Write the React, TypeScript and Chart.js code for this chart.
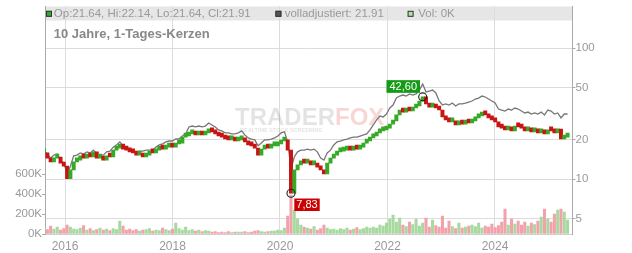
import React, { useEffect, useRef } from "react";
import { Chart, registerables } from "chart.js";

Chart.register(...registerables);

// ---- data -------------------------------------------------------------
const START_YEAR = 2015.6104; // first sample (decimal year)
const STEP_YEARS = 0.061256; // spacing between samples (~22 days)

const closes = [
  15.9, 14.5, 13.6, 14.5, 14.8, 13.3, 12.6, 10.1, 11.8, 13.6,
  14.0, 15.1, 14.5, 15.3, 14.8, 16.2, 14.5, 14.8, 14.0, 15.1,
  14.8, 16.7, 17.3, 18.6, 17.0, 16.7, 16.2, 15.9, 15.3, 15.6,
  14.8, 15.3, 16.2, 15.9, 16.7, 17.3, 17.0, 17.6, 18.0, 17.6,
  18.6, 18.9, 21.0, 21.4, 22.2, 22.6, 21.8, 22.2, 21.8, 22.6,
  23.8, 23.0, 22.2, 21.4, 21.0, 20.3, 20.0, 20.3, 19.6, 20.0,
  20.7, 19.3, 18.3, 18.0, 17.3, 15.3, 17.0, 17.6, 17.3, 18.0,
  18.0, 18.6, 19.6, 20.0, 16.7, 7.83, 11.8, 12.9, 13.6, 13.3,
  13.3, 12.9, 13.1, 12.4, 11.8, 11.0, 13.3, 14.5, 15.3, 16.2,
  16.4, 16.7, 17.0, 16.7, 17.3, 17.0, 17.6, 18.9, 19.6, 20.7,
  21.4, 22.6, 23.4, 23.8, 24.6, 26.4, 27.9, 31.0, 33.8, 32.6,
  34.4, 33.2, 35.0, 36.3, 39.6, 42.6, 37.6, 35.6, 36.9, 35.0,
  33.8, 29.9, 28.4, 27.4, 27.9, 26.0, 26.9, 26.4, 27.4, 26.9,
  27.9, 29.4, 30.4, 32.6, 31.0, 29.4, 28.4, 27.4, 25.1, 24.6,
  23.8, 24.2, 23.4, 25.5, 25.1, 24.6, 23.4, 23.8, 23.0, 23.4,
  22.6, 23.0, 22.2, 23.8, 23.4, 22.6, 24.2, 20.3, 21.0, 21.91,
];

const adjusted = [
  16.4, 15.6, 14.5, 15.3, 15.6, 14.0, 13.3, 11.0, 12.6, 15.1,
  15.3, 15.9, 15.6, 16.2, 15.9, 16.7, 15.6, 15.3, 15.3, 16.2,
  16.4, 17.6, 18.3, 19.3, 18.0, 17.3, 16.7, 16.4, 16.2, 16.4,
  16.4, 16.7, 16.7, 16.7, 17.6, 18.3, 18.6, 19.3, 19.6, 19.6,
  20.3, 20.3, 21.4, 22.2, 25.1, 25.5, 25.1, 25.5, 25.1, 25.5,
  26.9, 26.0, 25.1, 23.8, 23.4, 22.6, 22.6, 22.2, 22.2, 22.6,
  23.4, 21.8, 20.7, 20.3, 20.0, 18.0, 18.9, 20.0, 20.0, 20.3,
  20.7, 21.4, 22.6, 23.0, 19.3, 12.0, 14.8, 16.2, 16.7, 16.7,
  17.0, 16.7, 17.0, 16.2, 14.5, 14.0, 15.9, 16.7, 18.3, 19.3,
  19.6, 20.0, 20.3, 20.7, 21.0, 21.0, 21.4, 21.8, 22.2, 23.8,
  26.0, 28.4, 30.4, 29.9, 31.5, 35.0, 36.9, 41.7, 43.2, 44.0,
  43.2, 44.8, 44.0, 44.8, 48.0, 53.4, 46.4, 47.2, 48.0, 45.6,
  39.6, 36.9, 37.6, 36.9, 38.2, 36.3, 37.6, 37.6, 38.2, 38.9,
  39.6, 41.0, 41.7, 43.2, 42.5, 41.0, 39.6, 38.2, 34.4, 33.8,
  33.2, 34.4, 33.8, 35.0, 34.4, 33.2, 32.1, 32.6, 31.5, 32.1,
  31.5, 32.6, 31.0, 33.8, 33.2, 31.5, 32.1, 29.4, 31.5, 31.5,
];

const volumesK = [
  60, 45, 80, 50, 70, 40, 55, 90, 70, 50,
  45, 60, 85, 40, 55, 35, 45, 60, 40, 50,
  35, 55, 45, 130, 80, 40, 50, 35, 45, 30,
  40, 45, 55, 30, 40, 35, 60, 45, 35, 50,
  110, 55, 40, 70, 35, 45, 30, 40, 25, 35,
  30, 20, 25, 15, 20, 15, 25, 15, 20, 20,
  20, 25, 15, 20, 30, 35, 25, 20, 25, 30,
  30, 40, 35, 60, 180, 390, 240, 150, 90, 70,
  60, 50, 75, 40, 55, 90, 60, 45, 50, 40,
  55, 45, 60, 40, 50, 65, 45, 55, 70, 60,
  70, 60, 90, 80, 110, 150, 190, 120, 160, 90,
  75, 120, 95, 150, 80, 110, 160, 70, 140, 85,
  70, 180, 60, 130, 75, 55, 110, 60, 70, 80,
  90, 75, 110, 60, 80, 70, 100, 65, 85, 120,
  250, 90, 150, 100, 130, 90, 120, 80, 110, 95,
  130, 170, 250, 150, 120, 200, 240, 250, 220, 140,
];

const X_MIN = 2015.6279;
const X_MAX = 2025.4419;
const yearTicks = [2016, 2018, 2020, 2022, 2024];
const priceTicks = [5, 10, 20, 50, 100];
const PRICE_MIN = 3.823;
const PRICE_MAX = 208.5;
const volumeTicks = [0, 200000, 400000, 600000];
const VOLUME_MAX = 2275000;

const legendOHLC = "Op:21.64, Hi:22.14, Lo:21.64, Cl:21.91";
const legendAdjusted = "volladjustiert: 21.91";
const legendVolume = "Vol: 0K";
const titleText = "10 Jahre, 1-Tages-Kerzen";

// ---- styling ----------------------------------------------------------
const FONT = "'Liberation Sans', Arial, Helvetica, sans-serif";
const UP = "#36a927";
const DOWN = "#c81414";
const VOL_UP = "#a8d9a0";
const VOL_DOWN = "#f2a2aa";
const TICK_COLOR = "#999";

const times = closes.map((_, i) => START_YEAR + i * STEP_YEARS);
const opens = closes.map((c, i) => (i === 0 ? c : closes[i - 1]));
const isUp = closes.map((c, i) => c >= opens[i]);

const fmtDe = (v: number) => v.toFixed(2).replace(".", ",");

const overlayPlugin = {
  id: "overlay",
  beforeDraw(chart: any) {
    const { ctx, chartArea: a } = chart;
    ctx.save();
    ctx.fillStyle = "#e6e6e6";
    ctx.fillRect(a.left, a.top, a.right - a.left, 14);
    ctx.restore();
  },
  beforeDatasetsDraw(chart: any) {
    const { ctx } = chart;
    ctx.save();
    ctx.font = `bold 24px ${FONT}`;
    ctx.textBaseline = "alphabetic";
    ctx.fillStyle = "rgba(0,0,0,0.11)";
    ctx.fillText("TRADER", 235, 125);
    const w = ctx.measureText("TRADER").width;
    ctx.fillStyle = "rgba(225,70,70,0.22)";
    ctx.fillText("FOX", 235 + w, 125);
    ctx.font = `bold 5.5px ${FONT}`;
    ctx.fillStyle = "rgba(0,0,0,0.12)";
    ctx.fillText("REALTIME STOCK SCREENING", 240, 132);
    ctx.restore();
  },
  afterDatasetsDraw(chart: any) {
    const { ctx } = chart;
    const xs = chart.scales.x;
    const yp = chart.scales.yp;
    const maxV = Math.max(...closes);
    const minV = Math.min(...closes);
    const maxI = closes.indexOf(maxV);
    const minI = closes.indexOf(minV);
    ctx.save();
    ctx.font = `11px ${FONT}`;
    ctx.textBaseline = "middle";
    ctx.textAlign = "center";

    // max marker
    let cx = xs.getPixelForValue(times[maxI]);
    let cy = yp.getPixelForValue(maxV);
    let label = fmtDe(maxV);
    let tw = ctx.measureText(label).width + 6;
    let bx = cx - 2.7 - tw;
    let by = cy - 4 - 12.7;
    ctx.fillStyle = "#149a14";
    ctx.fillRect(bx, by, tw, 12.7);
    ctx.fillStyle = "#fff";
    ctx.fillText(label, bx + tw / 2, by + 6.6);
    ctx.beginPath();
    ctx.arc(cx, cy, 4, 0, Math.PI * 2);
    ctx.strokeStyle = "#222";
    ctx.lineWidth = 1.1;
    ctx.stroke();

    // min marker
    cx = xs.getPixelForValue(times[minI]);
    cy = yp.getPixelForValue(minV);
    label = fmtDe(minV);
    tw = ctx.measureText(label).width + 4;
    bx = cx + 3.3;
    by = cy + 5.3;
    ctx.fillStyle = "#cc0000";
    ctx.fillRect(bx, by, tw, 12.5);
    ctx.fillStyle = "#fff";
    ctx.fillText(label, bx + tw / 2, by + 6.5);
    ctx.beginPath();
    ctx.arc(cx, cy, 4, 0, Math.PI * 2);
    ctx.strokeStyle = "#222";
    ctx.stroke();
    ctx.restore();
  },
  afterDraw(chart: any) {
    const { ctx } = chart;
    ctx.save();
    const square = (x: number, fill: string) => {
      ctx.fillStyle = fill;
      ctx.fillRect(x, 10.8, 6, 6);
      ctx.strokeStyle = "#333";
      ctx.lineWidth = 1;
      ctx.strokeRect(x + 0.5, 11.3, 5, 5);
    };
    ctx.font = `11.5px ${FONT}`;
    ctx.textBaseline = "middle";
    ctx.textAlign = "left";
    square(46, "#33aa33");
    square(275.4, "#555555");
    square(407.6, "#b6e0ae");
    ctx.fillStyle = "#999";
    ctx.fillText(legendOHLC, 53.8, 14);
    ctx.fillText(legendAdjusted, 284.7, 14);
    ctx.fillText(legendVolume, 418.3, 14);
    ctx.font = `bold 13px ${FONT}`;
    ctx.fillStyle = "#888";
    ctx.fillText(titleText, 53.8, 34.6);
    ctx.restore();
  },
};

export default function App() {
  const canvasRef = useRef<HTMLCanvasElement | null>(null);

  useEffect(() => {
    document.body.style.margin = "0";
    const canvas = canvasRef.current;
    if (!canvas) return;

    const tickFont = { family: FONT, size: 11.5 };

    const chart = new Chart(canvas, {
      type: "bar",
      data: {
        datasets: [
          {
            type: "bar",
            label: "Vol",
            data: volumesK.map((v, i) => ({ x: times[i], y: v * 1000 })),
            backgroundColor: isUp.map((u) => (u ? VOL_UP : VOL_DOWN)),
            borderWidth: 0,
            barThickness: 2.4,
            grouped: false,
            xAxisID: "x",
            yAxisID: "yv",
            order: 3,
          } as any,
          {
            type: "line",
            label: "volladjustiert",
            data: adjusted.map((v, i) => ({ x: times[i], y: v })),
            borderColor: "#777777",
            borderWidth: 1.3,
            pointRadius: 0,
            tension: 0,
            xAxisID: "x",
            yAxisID: "yp",
            order: 2,
          } as any,
          {
            type: "bar",
            label: "Kerzen",
            data: closes.map((c, i) => ({ x: times[i], y: [opens[i], c] })),
            backgroundColor: isUp.map((u) => (u ? UP : DOWN)),
            borderWidth: 0,
            barThickness: 3.3,
            minBarLength: 4,
            grouped: false,
            xAxisID: "x",
            yAxisID: "yp",
            order: 1,
          } as any,
        ],
      },
      options: {
        animation: false,
        responsive: false,
        devicePixelRatio: 1,
        layout: { padding: { top: 6.5, left: 0, right: 0, bottom: 0 } },
        plugins: { legend: { display: false }, tooltip: { enabled: false } },
        scales: {
          x: {
            type: "linear",
            position: "bottom",
            offset: false,
            min: X_MIN,
            max: X_MAX,
            grid: { color: "#dcdcdc", drawTicks: false, offset: false },
            border: { color: "#cfcfcf" },
            ticks: {
              font: { family: FONT, size: 12 },
              color: TICK_COLOR,
              padding: 5,
              autoSkip: false,
              maxRotation: 0,
              callback: (v: any) => String(v),
            },
            afterBuildTicks: (s: any) => {
              s.ticks = yearTicks.map((v) => ({ value: v }));
            },
            afterFit: (s: any) => {
              s.height = 19;
              s.paddingLeft = 0;
              s.paddingRight = 0;
            },
          },
          yv: {
            type: "linear",
            position: "left",
            min: 0,
            max: VOLUME_MAX,
            grid: { drawOnChartArea: false, tickLength: 3, tickColor: "#aaa" },
            border: { color: "#aaa" },
            ticks: {
              font: tickFont,
              color: TICK_COLOR,
              padding: 0,
              autoSkip: false,
              callback: (v: any) => `${Math.round(Number(v) / 1000)}K`,
            },
            afterBuildTicks: (s: any) => {
              s.ticks = volumeTicks.map((v) => ({ value: v }));
            },
            afterFit: (s: any) => {
              s.width = 45;
              s.paddingTop = 0;
              s.paddingBottom = 0;
            },
          },
          yp: {
            type: "logarithmic",
            position: "right",
            min: PRICE_MIN,
            max: PRICE_MAX,
            grid: { color: "#dcdcdc", tickLength: 3, tickColor: "#aaa" },
            border: { color: "#aaa" },
            ticks: {
              font: tickFont,
              color: TICK_COLOR,
              padding: 0,
              autoSkip: false,
              callback: (v: any) => String(v),
            },
            afterBuildTicks: (s: any) => {
              s.ticks = priceTicks.map((v) => ({ value: v }));
            },
            afterFit: (s: any) => {
              s.width = 59.5;
              s.paddingTop = 0;
              s.paddingBottom = 0;
            },
          },
        } as any,
      },
      plugins: [overlayPlugin],
    });

    return () => chart.destroy();
  }, []);

  return (
    <div style={{ width: 632, height: 253, background: "#fff" }}>
      <canvas ref={canvasRef} width={632} height={253} style={{ display: "block" }} />
    </div>
  );
}
